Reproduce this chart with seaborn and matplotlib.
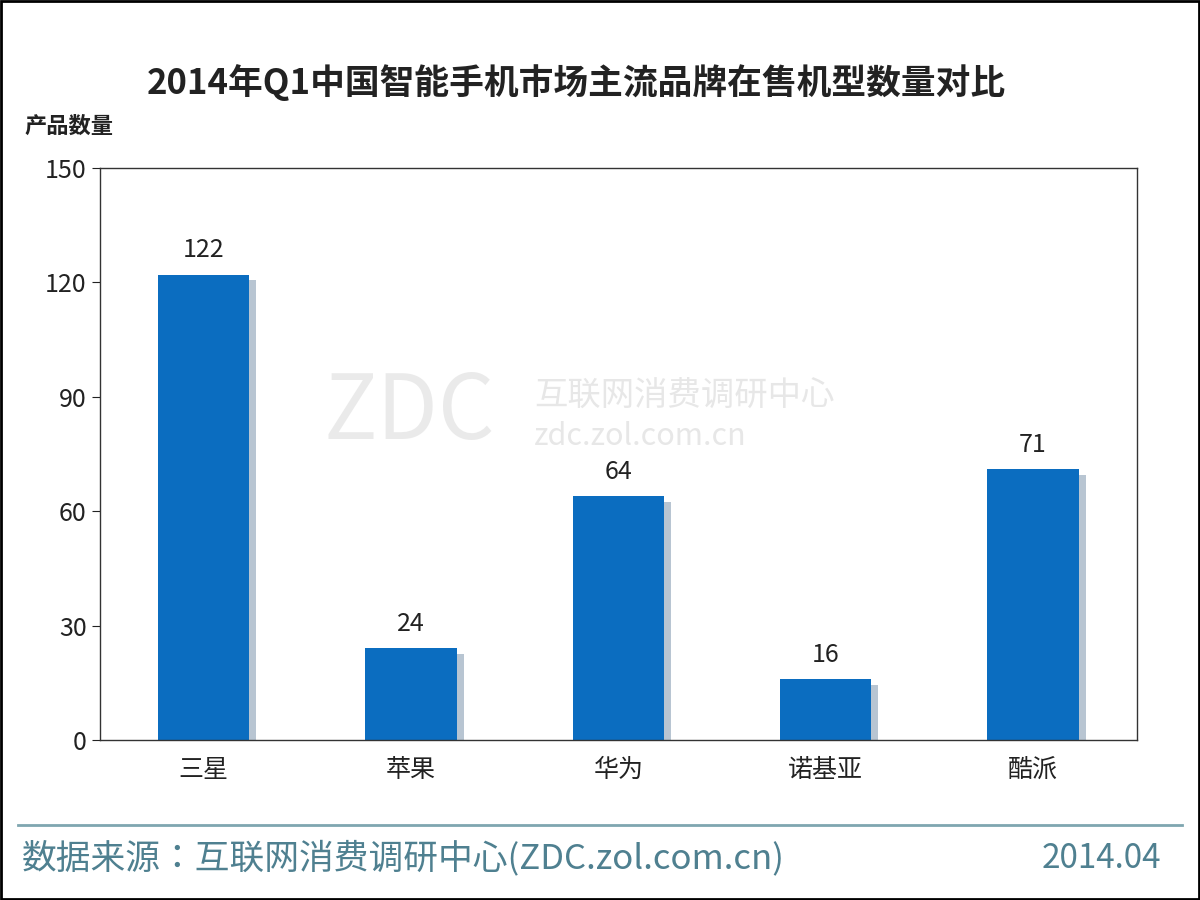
import matplotlib
matplotlib.use("Agg")
import matplotlib.pyplot as plt
import seaborn as sns
import pandas as pd
from matplotlib import patheffects as pe

brands = ["三星", "苹果", "华为", "诺基亚", "酷派"]
counts = [122, 24, 64, 16, 71]
yticks = [0, 30, 60, 90, 120, 150]

plt.rcParams["font.family"] = ["Noto Sans CJK JP", "Noto Sans CJK SC", "Noto Sans CJK TC",
                               "Noto Sans CJK KR", "DejaVu Sans"]
df = pd.DataFrame({"brand": brands, "count": counts})

fig = plt.figure(figsize=(12, 9), dpi=100)
ax = fig.add_axes([0.0833, 0.1778, 0.864, 0.6355])
sns.barplot(data=df, x="brand", y="count", color="#0b6dc0", width=0.44, ax=ax,
            saturation=1)
for p in ax.patches:
    p.set_path_effects([pe.SimplePatchShadow(offset=(5, -4), shadow_rgbFace="#8a9fb5", alpha=0.6), pe.Normal()])
    ax.text(p.get_x() + p.get_width() / 2, p.get_height() + 3, f"{int(p.get_height())}",
            ha="center", va="bottom", fontsize=18, color="#222222")
ax.set_ylim(0, 150)
ax.set_yticks(yticks)
ax.set_xlim(-0.5, 4.5)
ax.tick_params(axis="both", labelsize=18, colors="#222222", length=6, direction="out")
ax.tick_params(axis="x", length=0, pad=12)
ax.set_xlabel("")
ax.set_ylabel("")
for s in ax.spines.values():
    s.set_color("#333333")
    s.set_linewidth(1)

fig.text(0.48, 0.908, "2014年Q1中国智能手机市场主流品牌在售机型数量对比", ha="center", va="center",
         fontsize=25, fontweight="bold", color="#222222")
fig.text(0.02, 0.86, "产品数量", ha="left", va="center", fontsize=16, fontweight="bold", color="#222222")
fig.text(0.27, 0.54, "ZDC", fontsize=64, color="#dddddd", alpha=0.6, ha="left", va="center")
fig.text(0.445, 0.56, "互联网消费调研中心", fontsize=24, color="#dddddd", alpha=0.7, ha="left", va="center")
fig.text(0.445, 0.515, "zdc.zol.com.cn", fontsize=22, color="#dddddd", alpha=0.7, ha="left", va="center")
fig.add_artist(plt.Line2D([0.015, 0.985], [0.083, 0.083], color="#7fa6b0", lw=2))
fig.text(0.018, 0.046, "数据来源：互联网消费调研中心(ZDC.zol.com.cn)", fontsize=25, color="#4f8090",
         ha="left", va="center")
fig.text(0.968, 0.046, "2014.04", fontsize=24, color="#4f8090", ha="right", va="center")
fig.add_artist(plt.Rectangle((0.001, 0.001), 0.998, 0.998, fill=False, ec="black", lw=2,
                             transform=fig.transFigure))
fig.savefig("out.png", dpi=100)
